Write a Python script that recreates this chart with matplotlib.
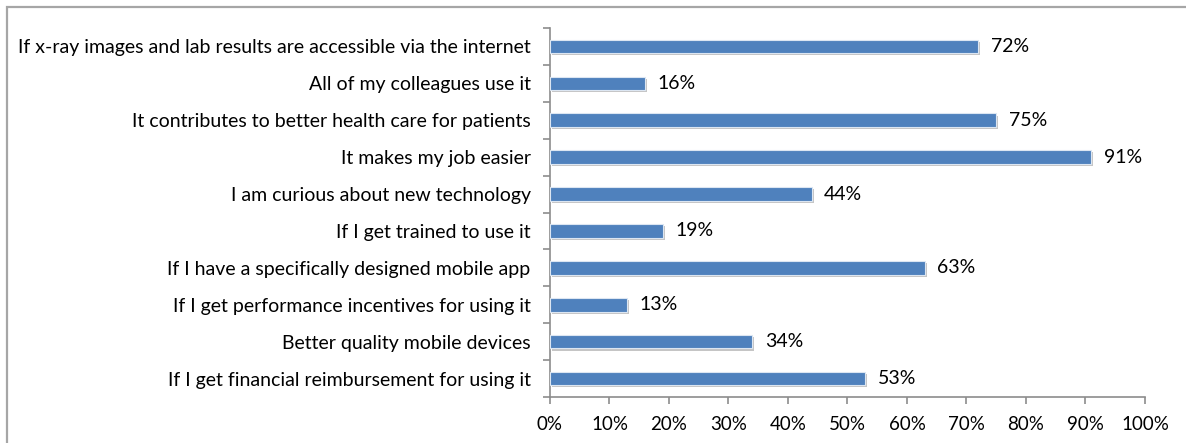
import matplotlib.pyplot as plt
import matplotlib.patheffects as pe
from matplotlib.patches import Rectangle
from matplotlib.ticker import FixedLocator

plt.rcParams['font.family'] = ['Lato', 'DejaVu Sans']

categories = [
    'If x-ray images and lab results are accessible via the internet',
    'All of my colleagues use it',
    'It contributes to better health care for patients',
    'It makes my job easier',
    'I am curious about new technology',
    'If I get trained to use it',
    'If I have a specifically designed mobile app',
    'If I get performance incentives for using it',
    'Better quality mobile devices',
    'If I get financial reimbursement for using it',
]
values = [72, 16, 75, 91, 44, 19, 63, 13, 34, 53]
xticks = [0, 10, 20, 30, 40, 50, 60, 70, 80, 90, 100]

barColor = '#4F81BD'
axisColor = '#8C8C8C'

fig = plt.figure(figsize=(11.86, 4.43), dpi=100)
ax = fig.add_axes([0.4637, 0.1038, 0.5017, 0.833])

# outer frame of the chart area (only top and left edges fit on the canvas)
fig.patches.append(Rectangle((7 / 1186, -0.05), 1.2, 1 - 6.5 / 443 + 0.05,
                             transform=fig.transFigure, fill=False,
                             edgecolor='#A6A6A6', linewidth=1.6, zorder=0))

ypos = list(range(len(categories)))
bars = ax.barh(ypos, values, height=0.37, color=barColor,
               edgecolor='#DCE6F2', linewidth=0.8, zorder=3)
for b in bars:
    b.set_path_effects([pe.SimplePatchShadow(offset=(1.5, -1.5), shadow_rgbFace='#7F7F7F', alpha=0.45),
                        pe.Normal()])

for y, v in zip(ypos, values):
    ax.annotate('%d%%' % v, (v, y), xytext=(9, 0), textcoords='offset points',
                va='center', ha='left', fontsize=14, color='black')

ax.set_xlim(0, 100)
ax.set_ylim(len(categories) - 0.5, -0.5)
ax.set_xticks(xticks)
ax.set_xticklabels(['%d%%' % t for t in xticks], fontsize=13.5)
ax.set_yticks(ypos)
ax.set_yticklabels(categories, fontsize=14)
ax.yaxis.set_minor_locator(FixedLocator([i - 0.5 for i in range(len(categories) + 1)]))

ax.tick_params(axis='y', which='major', length=0, pad=14)
ax.tick_params(axis='y', which='minor', length=5, width=1.2, color=axisColor)
ax.tick_params(axis='x', which='major', length=5, width=1.2, color=axisColor, pad=9)

for s in ['top', 'right']:
    ax.spines[s].set_visible(False)
for s in ['left', 'bottom']:
    ax.spines[s].set_color(axisColor)
    ax.spines[s].set_linewidth(1.2)

fig.savefig('out.png', dpi=100)
